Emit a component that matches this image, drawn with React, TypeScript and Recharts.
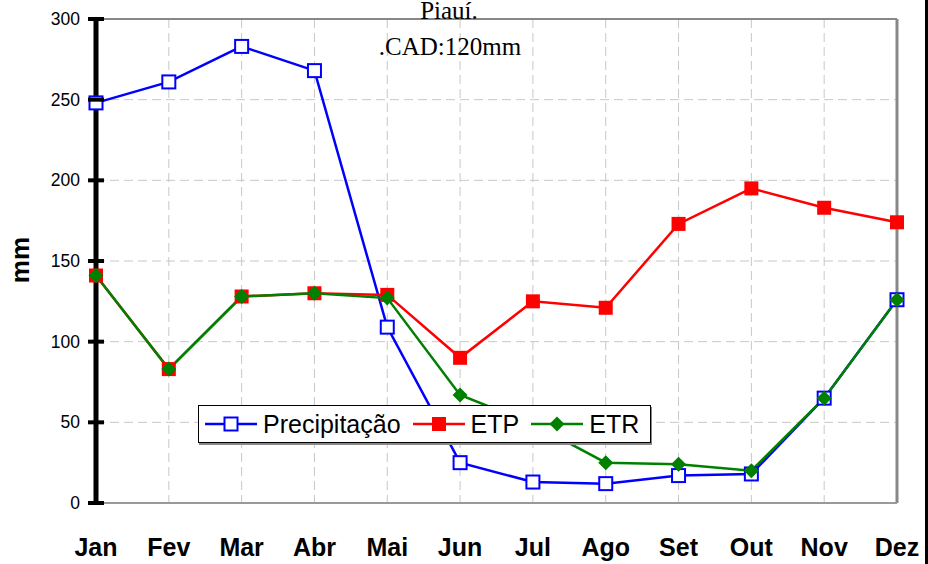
import React from 'react';
import { LineChart, Line, XAxis, YAxis, CartesianGrid, ReferenceLine } from 'recharts';

const months = ['Jan', 'Fev', 'Mar', 'Abr', 'Mai', 'Jun', 'Jul', 'Ago', 'Set', 'Out', 'Nov', 'Dez'];
const precipitacao = [248, 261, 283, 268, 109, 25, 13, 12, 17, 18, 65, 126];
const etp = [141, 83, 128, 130, 129, 90, 125, 121, 173, 195, 183, 174];
const etr = [141, 83, 128, 130, 127, 67, 49, 25, 24, 20, 65, 126];
const yTicks = [0, 50, 100, 150, 200, 250, 300];
const titleLines = ['Piauí.', '.CAD:120mm'];
const yLabel = 'mm';

const data = months.map((m, i) => ({ month: m, precipitacao: precipitacao[i], etp: etp[i], etr: etr[i] }));

const FONT = '"Liberation Sans", Arial, sans-serif';
const SERIF = '"Liberation Serif", "Times New Roman", serif';
const BLUE = '#0000ff';
const RED = '#ff0000';
const GREEN = '#008000';

const OpenSquare = (p: any) => {
  if (p.cx == null || p.cy == null) return null;
  return <rect key={`ps-${p.index}`} x={p.cx - 6.5} y={p.cy - 6.5} width={13} height={13} fill="#fff" stroke={BLUE} strokeWidth={2} />;
};
const FilledSquare = (p: any) => {
  if (p.cx == null || p.cy == null) return null;
  return <rect key={`es-${p.index}`} x={p.cx - 7} y={p.cy - 7} width={14} height={14} fill={RED} />;
};
const Diamond = (p: any) => {
  if (p.cx == null || p.cy == null) return null;
  const s = 7.5;
  return (
    <polygon
      key={`ed-${p.index}`}
      points={`${p.cx},${p.cy - s} ${p.cx + s},${p.cy} ${p.cx},${p.cy + s} ${p.cx - s},${p.cy}`}
      fill={GREEN}
    />
  );
};

const YTick = (p: any) => {
  const { x, y, payload } = p;
  return (
    <g>
      <line x1={x - 8} x2={x + 8} y1={y} y2={y} stroke="#000" strokeWidth={4} />
      <text x={x - 16} y={y} dy={6} textAnchor="end" fontFamily={FONT} fontSize={17.5} fill="#000">
        {payload.value}
      </text>
    </g>
  );
};

const XTick = (p: any) => {
  const { x, y, payload } = p;
  return (
    <text x={x} y={y + 53} textAnchor="middle" fontFamily={FONT} fontSize={25} fontWeight="bold" fill="#000">
      {payload.value}
    </text>
  );
};

const legendItems = [
  { name: 'Precipitação', color: BLUE, marker: 'openSquare' },
  { name: 'ETP', color: RED, marker: 'square' },
  { name: 'ETR', color: GREEN, marker: 'diamond' },
];

const LegendSample = ({ color, marker }: { color: string; marker: string }) => (
  <svg width={52} height={20} style={{ display: 'block' }}>
    <line x1={0} x2={52} y1={10} y2={10} stroke={color} strokeWidth={2.5} />
    {marker === 'openSquare' && <rect x={19.5} y={3.5} width={13} height={13} fill="#fff" stroke={color} strokeWidth={2} />}
    {marker === 'square' && <rect x={19} y={3} width={14} height={14} fill={color} />}
    {marker === 'diamond' && <polygon points="26,2.5 33.5,10 26,17.5 18.5,10" fill={color} />}
  </svg>
);

export default function App() {
  return (
    <div style={{ position: 'absolute', left: 0, top: 0, width: 928, height: 564, background: '#fff' }}>
      <LineChart width={928} height={564} data={data} margin={{ top: 19, right: 31, bottom: 0, left: 40 }}>
        <CartesianGrid stroke="#c8c8c8" strokeDasharray="9 5" />
        <XAxis
          dataKey="month"
          interval={0}
          tickLine={false}
          tickSize={0}
          tickMargin={0}
          height={61}
          axisLine={{ stroke: '#999', strokeWidth: 2 }}
          tick={<XTick />}
        />
        <YAxis
          domain={[0, 300]}
          ticks={yTicks}
          width={56}
          tickLine={false}
          tickSize={0}
          tickMargin={0}
          axisLine={{ stroke: '#000', strokeWidth: 5 }}
          tick={<YTick />}
        />
        <ReferenceLine y={300} stroke="#888" strokeWidth={2} />
        <ReferenceLine x="Dez" stroke="#888" strokeWidth={3} />
        <Line dataKey="precipitacao" stroke={BLUE} strokeWidth={2.5} dot={OpenSquare} isAnimationActive={false} />
        <Line dataKey="etp" stroke={RED} strokeWidth={2.5} dot={FilledSquare} isAnimationActive={false} />
        <Line dataKey="etr" stroke={GREEN} strokeWidth={2.5} dot={Diamond} isAnimationActive={false} />
      </LineChart>
      <svg width={928} height={564} style={{ position: 'absolute', left: 0, top: 0, pointerEvents: 'none' }}>
        <text x={449} y={19} textAnchor="middle" fontFamily={SERIF} fontSize={25} fill="#000">{titleLines[0]}</text>
        <text x={450} y={55} textAnchor="middle" fontFamily={SERIF} fontSize={25} fill="#000">{titleLines[1]}</text>
        <text x={0} y={0} transform="translate(29,260) rotate(-90)" textAnchor="middle" fontFamily={FONT} fontSize={26} fontWeight="bold" fill="#000">{yLabel}</text>
        <rect x={925} y={0} width={3} height={564} fill="#000" />
      </svg>
      <div
        style={{
          position: 'absolute',
          left: 198,
          top: 405,
          width: 453,
          height: 38,
          boxSizing: 'border-box',
          border: '1px solid #000',
          boxShadow: '1px 2px 0 #888',
          background: '#fff',
          display: 'flex',
          alignItems: 'center',
          paddingLeft: 6,
          fontFamily: FONT,
          fontSize: 25,
          color: '#000',
          whiteSpace: 'nowrap',
        }}
      >
        {legendItems.map((it, i) => (
          <div key={it.name} style={{ display: 'flex', alignItems: 'center', marginLeft: i === 0 ? 0 : 12 }}>
            <LegendSample color={it.color} marker={it.marker} />
            <span style={{ marginLeft: 6, lineHeight: '38px' }}>{it.name}</span>
          </div>
        ))}
      </div>
    </div>
  );
}
